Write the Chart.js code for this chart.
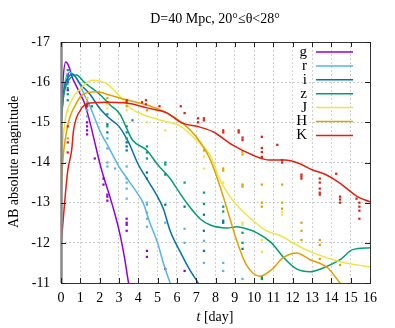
<!DOCTYPE html>
<html>
<head>
<meta charset="utf-8">
<script src="https://cdn.jsdelivr.net/npm/chart.js@4.4.1/dist/chart.umd.min.js"></script>
<style>
  html, body { margin: 0; padding: 0; background: #fff; }
  #wrap { width: 395px; height: 328px; }
</style>
</head>
<body>
<div id="wrap"><canvas id="c" width="395" height="328"></canvas></div>
<script>
// band names and colours
const bands = ["g", "r", "i", "z", "J", "H", "K"];
const colors = ["#9400d3", "#56b4e9", "#0072b2", "#009e73", "#f0e442", "#e69f00", "#e51e10"];

const xTicks = [0, 1, 2, 3, 4, 5, 6, 7, 8, 9, 10, 11, 12, 13, 14, 15, 16];
const yTicks = [-17, -16, -15, -14, -13, -12, -11];

// model light curves (t [day], magnitude)
const gT = [0, 0.1, 0.25, 0.4, 0.6, 0.8, 1.0, 1.2, 1.5, 1.75, 2.0, 2.2, 2.5, 2.8, 3.06, 3.3, 3.5, 3.7];
const gM = [-14.8, -16.0, -16.5, -16.4, -16.1, -15.9, -15.7, -15.5, -15.0, -14.5, -14.0, -13.65, -13.2, -12.7, -12.2, -11.6, -11.0, -10.6];

const rT = [0, 0.1, 0.25, 0.45, 0.8, 1.2, 1.5, 2.0, 2.5, 3.0, 3.5, 4.0, 4.25, 4.6, 5.0, 5.3, 5.65, 5.9];
const rM = [-14.8, -15.5, -16.1, -16.25, -16.1, -15.7, -15.4, -14.8, -14.35, -13.9, -13.55, -13.2, -13.0, -12.5, -12.0, -11.5, -11.0, -10.7];

const iT = [0, 0.15, 0.35, 0.6, 1.0, 1.5, 2.0, 2.5, 3.0, 3.5, 4.0, 4.5, 5.0, 5.3, 5.65, 6.2, 6.7, 7.1, 7.4];
const iM = [-15.0, -15.8, -16.1, -16.2, -15.95, -15.7, -15.35, -15.1, -14.9, -14.5, -13.95, -13.55, -13.15, -12.85, -12.3, -11.75, -11.3, -11.0, -10.7];

const zT = [0, 0.15, 0.4, 0.8, 1.2, 1.6, 2.0, 2.5, 3.06, 3.4, 3.7, 4.45, 5.0, 5.65, 6.0, 6.5, 7.2, 7.7, 8.6, 9.1, 9.6, 10.15, 10.9, 11.5, 12.2, 12.9, 13.6, 14.45, 15.1, 16];
const zM = [-15.1, -15.7, -16.05, -16.18, -16.0, -15.85, -15.7, -15.45, -15.2, -14.85, -14.56, -14.3, -13.95, -13.6, -13.35, -13.0, -12.6, -12.45, -12.37, -12.4, -12.35, -12.25, -12.0, -11.65, -11.35, -11.28, -11.38, -11.58, -11.83, -11.88];

const jT = [0, 0.05, 0.2, 0.55, 1.1, 1.6, 2.3, 3.1, 3.6, 4.1, 5.1, 6.2, 7.0, 7.7, 8.2, 8.9, 9.6, 10.65, 11.4, 12.0, 12.9, 14.45, 16];
const jM = [-13.6, -14.2, -15.0, -15.55, -15.88, -16.05, -15.98, -15.62, -15.35, -15.22, -15.06, -14.9, -14.56, -14.2, -13.6, -13.05, -12.7, -12.3, -12.17, -12.0, -11.78, -11.53, -11.4];

const hT = [0, 0.05, 0.3, 0.8, 1.15, 1.85, 2.5, 3.4, 4.45, 5.5, 6.3, 7.0, 7.7, 8.2, 8.75, 9.1, 9.6, 10.3, 10.9, 11.5, 12.2, 12.9, 13.8, 14.45, 14.8];
const hM = [-13.0, -13.7, -14.8, -15.48, -15.7, -15.76, -15.68, -15.56, -15.43, -15.23, -14.98, -14.64, -14.1, -13.45, -12.6, -12.05, -11.45, -11.17, -11.33, -11.63, -11.75, -11.58, -11.38, -11.0, -10.8];

const kT = [0, 0.1, 0.2, 0.35, 0.55, 0.65, 1.0, 1.5, 2.4, 3.4, 4.45, 5.5, 6.2, 7.2, 7.9, 8.9, 9.95, 10.8, 11.6, 12.3, 13.0, 13.7, 14.4, 15.35, 16];
const kM = [-11.9, -12.5, -13.07, -13.8, -14.3, -14.8, -15.3, -15.48, -15.5, -15.48, -15.36, -15.23, -15.0, -14.88, -14.76, -14.43, -14.18, -14.06, -14.06, -13.98, -13.82, -13.7, -13.5, -13.15, -13.02];

// simulated photometry points (t [day], magnitude)
const gPt = [0.35, 0.35, 0.35, 1.35, 1.35, 1.35, 1.35, 1.35, 1.35, 1.75, 2.2, 2.2, 2.4, 2.4, 2.4, 3.4, 3.4, 3.4, 3.4, 4.45, 4.45, 5.4, 6.4];
const gPm = [-16.2, -16.0, -15.8, -15.45, -15.3, -15.0, -14.9, -14.8, -14.7, -14.1, -13.6, -13.45, -13.2, -13.15, -13.05, -12.6, -12.5, -12.45, -12.3, -11.8, -11.65, -11.35, -11.3];

const rPt = [0.35, 0.35, 1.35, 1.35, 2.4, 2.4, 2.4, 2.4, 2.8, 3.4, 3.4, 3.4, 3.4, 3.4, 4.45, 4.45, 4.45, 4.45, 4.45, 5.4, 6.4, 6.4, 7.4, 7.4, 8.4, 8.4, 9.4];
const rPm = [-16.1, -15.95, -15.3, -15.15, -14.6, -14.35, -14.0, -13.9, -13.85, -13.9, -13.6, -13.5, -13.35, -13.1, -13.0, -12.95, -12.75, -12.6, -12.4, -12.5, -12.35, -12.0, -12.05, -11.5, -11.5, -11.3, -11.1];

const iPt = [0.35, 1.35, 1.35, 2.4, 2.4, 3.4, 3.4, 3.4, 4.45, 4.45, 5.4, 5.4, 6.4, 7.4, 7.4, 7.4, 8.4, 8.4, 9.4];
const iPm = [-16.05, -15.6, -15.45, -14.95, -14.75, -14.5, -14.4, -14.3, -13.75, -13.6, -13.7, -12.95, -12.9, -12.7, -12.3, -11.8, -12.55, -12.5, -11.85];

const zPt = [0.35, 0.35, 0.35, 0.35, 0.35, 1.35, 1.6, 2.4, 2.4, 3.4, 3.4, 3.4, 3.7, 4.45, 4.45, 4.45, 5.4, 5.4, 6.4, 7.4, 7.4, 8.4, 8.4, 9.4, 9.4, 10.4, 10.4];
const zPm = [-16.3, -16.15, -15.85, -15.7, -15.55, -15.4, -15.4, -15.2, -14.9, -14.9, -14.75, -14.6, -15.05, -14.4, -14.25, -14.1, -14.0, -13.95, -13.5, -13.25, -12.97, -12.9, -12.78, -12.25, -12.0, -11.15, -11.1];

const jPt = [0.35, 1.35, 2.4, 2.4, 3.4, 4.45, 5.4, 7.4, 7.4, 8.4, 9.4, 9.4, 10.4, 10.4, 11.45, 11.45];
const jPm = [-15.3, -15.6, -15.45, -15.35, -15.3, -15.0, -14.8, -14.15, -13.85, -13.5, -12.5, -12.45, -12.07, -11.78, -12.77, -12.7];

const hPt = [0.35, 1.35, 2.4, 3.4, 4.45, 7.4, 8.4, 8.4, 9.4, 9.4, 9.4, 9.4, 10.4, 10.4, 10.4, 11.45, 11.45, 11.45, 12.45, 12.45, 12.45, 13.4, 13.4, 13.4, 14.45];
const hPm = [-14.6, -15.5, -15.6, -15.4, -15.3, -14.3, -13.85, -13.8, -14.27, -14.2, -13.45, -13.4, -13.45, -13.0, -12.9, -13.45, -13.0, -12.85, -12.5, -12.3, -12.07, -12.07, -11.95, -11.6, -11.45];

const kPt = [0.35, 0.35, 0.35, 1.35, 2.4, 3.4, 3.4, 4.2, 4.4, 4.4, 5.1, 6.2, 6.4, 7.1, 7.1, 7.4, 7.4, 8.4, 8.4, 9.2, 9.2, 9.4, 9.4, 10.4, 10.4, 10.4, 10.4, 11.2, 11.45, 11.45, 12.45, 12.45, 12.45, 13.4, 13.4, 13.4, 13.4, 13.4, 14.25, 14.45, 14.45, 14.45, 15.3, 15.45, 15.45, 15.45, 15.45];
const kPm = [-14.9, -14.5, -14.25, -15.4, -15.5, -15.55, -15.5, -15.5, -15.55, -15.45, -15.4, -15.4, -15.23, -15.1, -15.0, -15.1, -15.05, -14.8, -14.75, -14.8, -14.75, -14.62, -14.56, -14.64, -14.36, -14.26, -14.14, -14.44, -14.06, -14.0, -13.7, -13.65, -13.6, -13.6, -13.5, -13.35, -13.25, -13.2, -13.72, -13.15, -13.08, -13.0, -13.1, -13.0, -12.9, -12.8, -12.6];

const lineT = [gT, rT, iT, zT, jT, hT, kT];
const lineM = [gM, rM, iM, zM, jM, hM, kM];
const ptT = [gPt, rPt, iPt, zPt, jPt, hPt, kPt];
const ptM = [gPm, rPm, iPm, zPm, jPm, hPm, kPm];

const FONT = "'Liberation Serif', 'Times New Roman', serif";
Chart.defaults.font.family = FONT;
Chart.defaults.color = "#000";

const pairs = (ts, ms) => ts.map((t, k) => ({ x: t, y: ms[k] }));

const datasets = [];
bands.forEach((b, n) => {
  datasets.push({
    label: b + " pts",
    data: pairs(ptT[n], ptM[n]),
    showLine: false,
    pointStyle: "rect",
    pointRadius: 1.6,
    pointBackgroundColor: colors[n],
    pointBorderWidth: 0,
    order: 40 - n * 2
  });
  datasets.push({
    label: b,
    data: pairs(lineT[n], lineM[n]),
    showLine: true,
    borderColor: colors[n],
    borderWidth: 1.5,
    pointRadius: 0,
    cubicInterpolationMode: "monotone",
    order: 39 - n * 2
  });
});

const frame = {
  id: "frame",
  afterDraw(chart) {
    const { ctx, chartArea: a, scales: { x, y } } = chart;
    ctx.save();
    // border
    ctx.strokeStyle = "#333";
    ctx.lineWidth = 1;
    ctx.strokeRect(a.left + 0.5, a.top + 0.5, a.width, a.height);
    ctx.strokeStyle = "#888";
    ctx.lineWidth = 2.5;
    ctx.beginPath();
    ctx.moveTo(a.left + 0.5, a.top);
    ctx.lineTo(a.left + 0.5, a.bottom);
    ctx.stroke();

    // inward ticks
    ctx.strokeStyle = "#222";
    ctx.lineWidth = 1;
    ctx.beginPath();
    xTicks.forEach(v => {
      const px = Math.round(x.getPixelForValue(v)) + 0.5;
      ctx.moveTo(px, a.bottom); ctx.lineTo(px, a.bottom - 5);
      ctx.moveTo(px, a.top); ctx.lineTo(px, a.top + 5);
    });
    yTicks.forEach(v => {
      const py = Math.round(y.getPixelForValue(v)) + 0.5;
      ctx.moveTo(a.left, py); ctx.lineTo(a.left + 5, py);
      ctx.moveTo(a.right, py); ctx.lineTo(a.right - 5, py);
    });
    ctx.stroke();

    // legend
    ctx.font = "15px " + FONT;
    ctx.textAlign = "right";
    ctx.textBaseline = "middle";
    bands.forEach((b, n) => {
      const ly = 52 + n * 13.9;
      ctx.fillStyle = "#000";
      ctx.fillText(b, 307, ly);
      ctx.strokeStyle = colors[n];
      ctx.lineWidth = 1.5;
      ctx.beginPath();
      ctx.moveTo(316, ly);
      ctx.lineTo(353, ly);
      ctx.stroke();
    });

    // title
    ctx.fillStyle = "#000";
    ctx.textAlign = "center";
    ctx.textBaseline = "alphabetic";
    ctx.font = "14px " + FONT;
    ctx.fillText("D=40 Mpc, 20°≤θ<28°", 215, 23);

    // x title
    const xl = "[day]";
    ctx.font = "14px " + FONT;
    const w2 = ctx.measureText(" " + xl).width;
    ctx.font = "italic 14px " + FONT;
    const w1 = ctx.measureText("t").width;
    const x0 = 215 - (w1 + w2) / 2;
    ctx.textAlign = "left";
    ctx.fillText("t", x0, 321);
    ctx.font = "14px " + FONT;
    ctx.fillText(" " + xl, x0 + w1, 321);

    // y title
    ctx.translate(18, 162);
    ctx.rotate(-Math.PI / 2);
    ctx.textAlign = "center";
    ctx.fillText("AB absolute magnitude", 0, 0);
    ctx.restore();
  }
};

new Chart(document.getElementById("c"), {
  type: "scatter",
  data: { datasets },
  plugins: [frame],
  options: {
    responsive: false,
    animation: false,
    layout: { padding: { left: 0, right: 25, top: 42, bottom: 0 } },
    plugins: { legend: { display: false }, tooltip: { enabled: false } },
    scales: {
      x: {
        type: "linear",
        min: 0, max: 16,
        afterBuildTicks: s => { s.ticks = xTicks.map(v => ({ value: v })); },
        afterFit: s => { s.height = 45; },
        ticks: { font: { size: 14 }, padding: 7, color: "#000", callback: v => String(v), maxRotation: 0 },
        grid: { color: "#c4c4c4", lineWidth: 0.8, drawTicks: false },
        border: { display: false, dash: [2, 2] }
      },
      y: {
        type: "linear",
        min: -17, max: -11,
        reverse: true,
        afterBuildTicks: s => { s.ticks = yTicks.map(v => ({ value: v })); },
        afterFit: s => { s.width = 61; },
        ticks: { font: { size: 14 }, padding: 11, color: "#000", callback: v => String(v) },
        grid: { color: "#c4c4c4", lineWidth: 0.8, drawTicks: false },
        border: { display: false, dash: [2, 2] }
      }
    }
  }
});
</script>
</body>
</html>
